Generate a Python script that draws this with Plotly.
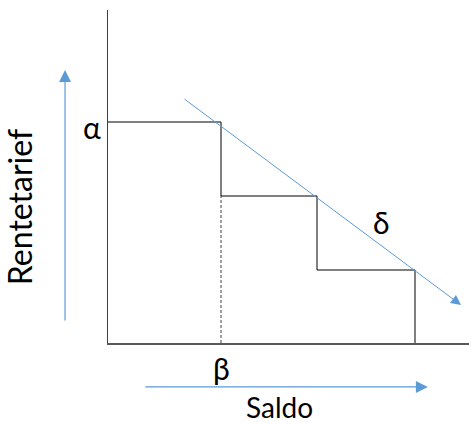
import plotly.graph_objects as go

# Step schedule (data units: saldo on x, rentetarief on y)
step_edges = [0, 113, 209, 307]      # saldo breakpoints
step_levels = [221, 147, 73]         # rate per tier
beta_x = 113                         # first breakpoint (beta)
trend_start = (75, 245)              # delta line tail
trend_end = (353, 38)                # delta line head
labels = {"alpha": "α", "beta": "β", "delta": "δ", "x": "Saldo", "y": "Rentetarief"}

BLUE = "#5B9BD5"
DARK = "#404040"
FONT = "Lato, Noto Sans, sans-serif"

fig = go.Figure()

# staircase
xs, ys = [], []
for i, lvl in enumerate(step_levels):
    xs += [step_edges[i], step_edges[i + 1], step_edges[i + 1]]
    nxt = step_levels[i + 1] if i + 1 < len(step_levels) else 0
    ys += [lvl, lvl, nxt]
fig.add_trace(go.Scatter(x=xs, y=ys, mode="lines",
                         line=dict(color="black", width=1), hoverinfo="skip"))
# dashed line at beta
fig.add_trace(go.Scatter(x=[beta_x, beta_x], y=[0, step_levels[1]], mode="lines",
                         line=dict(color=DARK, width=1, dash="3px,2px"), hoverinfo="skip"))

annotations = []
# delta trend arrow
annotations.append(dict(x=trend_end[0], y=trend_end[1], xref="x", yref="y",
                        ax=trend_start[0], ay=trend_start[1], axref="x", ayref="y",
                        showarrow=True, arrowhead=2, arrowsize=2, arrowwidth=1,
                        arrowcolor=BLUE, text=""))
# axis arrows outside the plot (paper coords, pixel offsets)
annotations.append(dict(x=-0.119, y=0.82, xref="paper", yref="paper",
                        ax=0, ay=252, axref="pixel", ayref="pixel",
                        showarrow=True, arrowhead=2, arrowsize=2, arrowwidth=1.2,
                        arrowcolor=BLUE, text=""))
annotations.append(dict(x=0.886, y=-0.132, xref="paper", yref="paper",
                        ax=-284, ay=0, axref="pixel", ayref="pixel",
                        showarrow=True, arrowhead=2, arrowsize=2, arrowwidth=1.2,
                        arrowcolor=BLUE, text=""))

greek = dict(family=FONT, size=30, color="black")
center = dict(showarrow=False, xanchor="center", yanchor="middle")
annotations.append(dict(x=-0.044, y=0.650, xref="paper", yref="paper", text=labels["alpha"],
                        font=greek, **center))
annotations.append(dict(x=beta_x, xref="x", y=-0.075, yref="paper", text=labels["beta"],
                        font=greek, **center))
annotations.append(dict(x=273, y=121, xref="x", yref="y", text=labels["delta"],
                        font=greek, **center))
annotations.append(dict(x=0.476, y=-0.193, xref="paper", yref="paper", text=labels["x"],
                        font=dict(family=FONT, size=28, color="black"), **center))
annotations.append(dict(x=-0.2465, y=0.408, xref="paper", yref="paper", text=labels["y"],
                        font=dict(family=FONT, size=32, color="black"), textangle=-90,
                        **center))

fig.update_layout(
    width=469, height=425,
    margin=dict(l=108, r=0, t=10, b=82),
    paper_bgcolor="white", plot_bgcolor="white",
    showlegend=False,
    annotations=annotations,
    xaxis=dict(range=[0, 361], showgrid=False, zeroline=False, showticklabels=False,
               ticks="", showline=True, linecolor="#595959", linewidth=1.5),
    yaxis=dict(range=[0, 333], showgrid=False, zeroline=False, showticklabels=False,
               ticks="", showline=True, linecolor=DARK, linewidth=1),
)

fig.write_html("out.html", config={"displayModeBar": False},
               post_script="document.body.style.margin='0';document.body.style.overflow='hidden';")
